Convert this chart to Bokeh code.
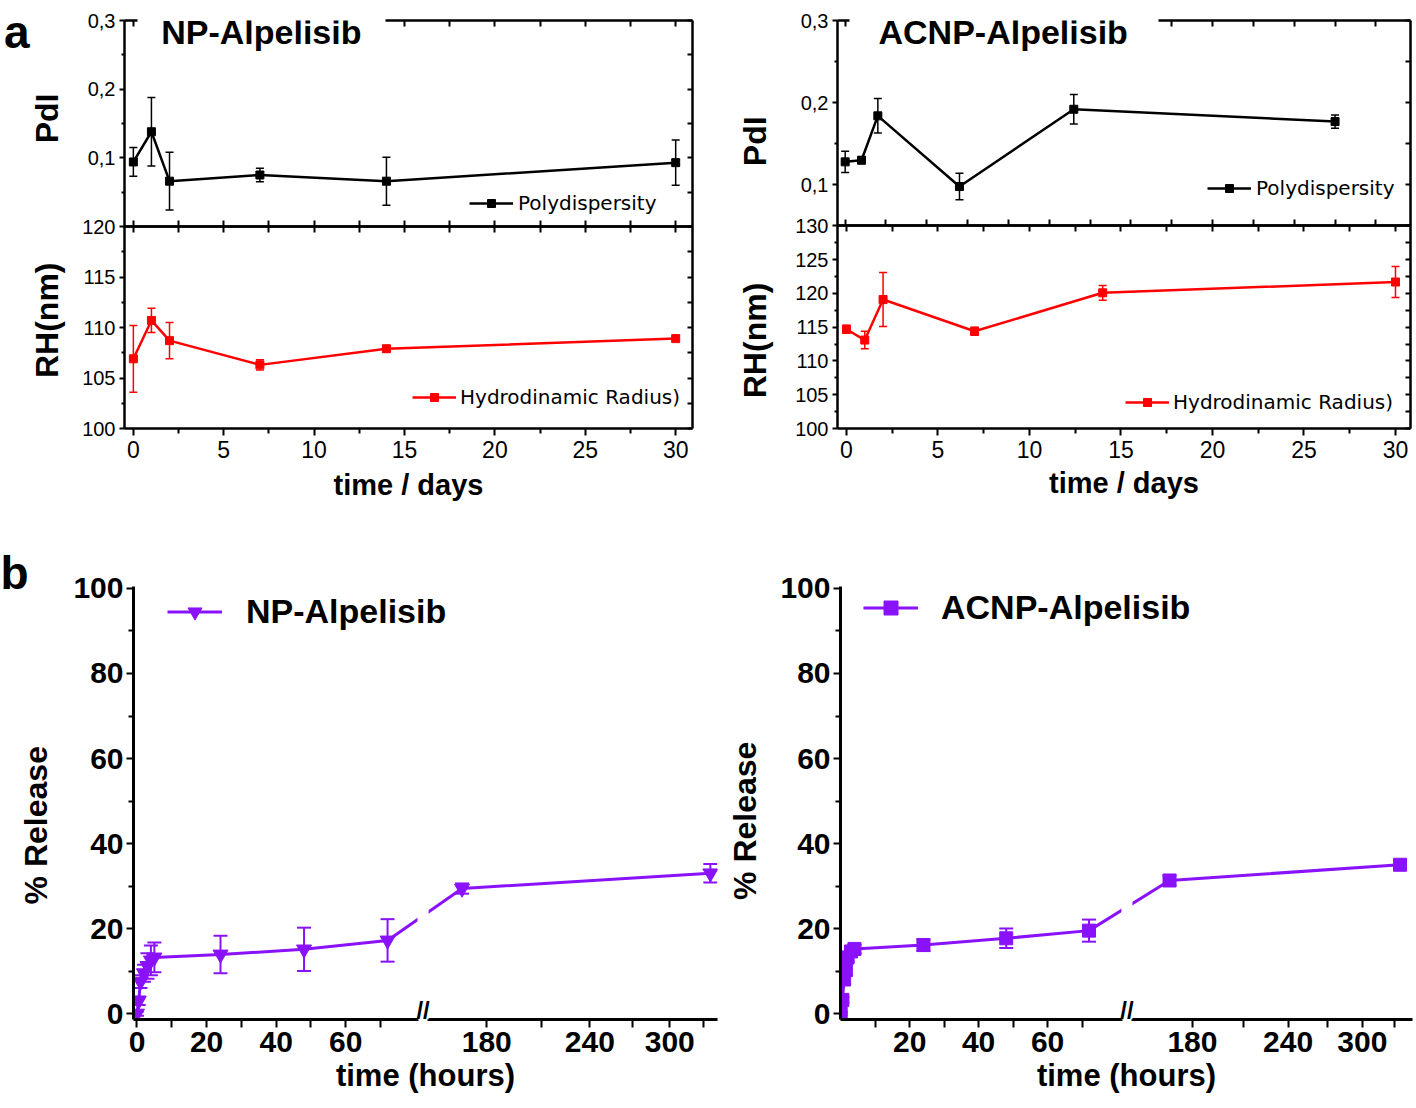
import numpy as np
from bokeh.plotting import figure
from bokeh.models import (Range1d, LinearAxis, FixedTicker, CustomJSTickFormatter, Whisker,
                          TeeHead, ColumnDataSource, Label, Legend, LegendItem, BoxAnnotation)
from bokeh.layouts import row, column
from bokeh.core.properties import value
from bokeh.embed import file_html
from bokeh.resources import INLINE

FONT = "Liberation Sans"
LEG_FONT = "DejaVu Sans"
RED = "#ff0000"
PURPLE = "#8a12fa"
BLACK = "#000000"
HALF_PI = np.pi / 2
NBSP = "\u00a0"

# ---------------- data : panel a (stability over days) ----------------
days = [0, 1, 2, 7, 14, 30]
np_pdi = [0.094, 0.138, 0.066, 0.075, 0.066, 0.093]
np_pdi_err = [0.021, 0.050, 0.042, 0.010, 0.035, 0.033]
np_rh = [106.9, 110.7, 108.7, 106.3, 107.9, 108.9]
np_rh_err = [3.3, 1.2, 1.8, 0.5, 0.3, 0.2]
acnp_pdi = [0.128, 0.130, 0.184, 0.098, 0.192, 0.177]
acnp_pdi_err = [0.013, 0.004, 0.021, 0.016, 0.018, 0.008]
acnp_rh = [114.7, 113.1, 119.1, 114.4, 120.1, 121.7]
acnp_rh_err = [0.6, 1.3, 4.0, 0.6, 1.1, 2.3]
day_ticks = [0, 5, 10, 15, 20, 25, 30]
day_minor = [2.5, 7.5, 12.5, 17.5, 22.5, 27.5]
day_top_acnp = [0, 2.5, 5, 7.5, 10, 12.5, 15, 17.5, 20, 22.5, 25, 27.5, 30, 32.5]
np_rh_ticks = [100, 105, 110, 115, 120]
np_rh_minor = [102.5, 107.5, 112.5, 117.5]
acnp_rh_ticks = [100, 105, 110, 115, 120, 125, 130]
acnp_rh_minor = [102.5, 107.5, 112.5, 117.5, 122.5, 127.5]
pdi_ticks = [0.1, 0.2, 0.3]
np_pdi_minor = [0.05, 0.15, 0.25]
acnp_pdi_minor = [0.15, 0.25]

# ---------------- data : panel b (release over hours) ----------------
np_hours = [0, 0.5, 1, 2, 3, 4, 5, 24, 48, 72, 168, 336]
np_release = [0, 3.0, 7.5, 9.5, 11.2, 12.5, 13.2, 13.9, 15.1, 17.2, 29.4, 33.0]
np_release_err = [0.5, 1.0, 1.5, 2.0, 3.0, 3.5, 3.5, 4.4, 5.1, 5.0, 1.2, 2.2]
acnp_hours = [0, 0.5, 1, 1.5, 2, 3, 4, 24, 48, 72, 168, 336]
acnp_release = [0, 3.2, 8.0, 10.2, 13.2, 14.6, 15.2, 16.1, 17.7, 19.5, 31.3, 35.0]
acnp_release_err = [0.3, 0.6, 1.0, 1.2, 1.0, 1.0, 1.0, 1.4, 2.3, 2.6, 1.2, 0.6]
np_hour_labels = [0, 20, 40, 60, 180, 240, 300]
acnp_hour_labels = [20, 40, 60, 180, 240, 300]
hour_minor = [10, 30, 50, 70, 210, 270, 330]
release_ticks = [0, 20, 40, 60, 80, 100]
release_minor = [10, 30, 50, 70, 90]


def label_formatter(pos, labs):
    return CustomJSTickFormatter(args=dict(pos=list(pos), labs=list(labs)), code="""
        let best = -1, d = 1e9;
        for (let i = 0; i < pos.length; i++) {
          const e = Math.abs(pos[i] - tick);
          if (e < d) { d = e; best = i; }
        }
        return (best >= 0 && d < 1e-6) ? labs[best] : '';
    """)


def style(ax, tin=0, tout=0, min_in=0, min_out=0, fs="20px", bold=False, standoff=0, lw=2.5):
    ax.axis_line_width = lw
    ax.axis_line_color = BLACK
    ax.major_tick_line_width = 2
    ax.minor_tick_line_width = 2
    ax.major_tick_line_color = BLACK
    ax.minor_tick_line_color = BLACK
    ax.major_tick_in = tin
    ax.major_tick_out = tout
    ax.minor_tick_in = min_in
    ax.minor_tick_out = min_out
    ax.major_label_text_font = FONT
    ax.major_label_text_font_size = fs
    ax.major_label_text_font_style = "bold" if bold else "normal"
    ax.major_label_text_color = BLACK
    ax.major_label_standoff = standoff
    ax.axis_label = None


def text_axis(p, side, pos, labs, fs, standoff, angle=0.0, **kw):
    """axis without line/ticks that only carries text labels at given positions"""
    ax = LinearAxis(ticker=FixedTicker(ticks=list(pos), minor_ticks=[]),
                    formatter=label_formatter(pos, labs), **kw)
    style(ax, fs=fs, bold=True, standoff=standoff)
    ax.axis_line_color = None
    ax.major_tick_line_color = None
    ax.minor_tick_line_color = None
    if angle:
        ax.major_label_orientation = angle
    p.add_layout(ax, side)


def title_axis(p, side, text, fs, standoff):
    """axis without line/ticks whose only content is its axis label"""
    ax = LinearAxis(ticker=FixedTicker(ticks=[], minor_ticks=[]))
    style(ax)
    ax.axis_line_color = None
    ax.axis_label = text
    ax.axis_label_standoff = standoff
    ax.axis_label_text_font = FONT
    ax.axis_label_text_font_size = fs
    ax.axis_label_text_font_style = "bold"
    ax.axis_label_text_color = BLACK
    p.add_layout(ax, side)


def bare_axis(p, side, ticks, tin=0, tout=0, lw=2.5, **kw):
    ax = LinearAxis(ticker=FixedTicker(ticks=[], minor_ticks=list(ticks)), **kw)
    style(ax, min_in=tin, min_out=tout, lw=lw)
    p.add_layout(ax, side)


def errbars(p, src, color, lw, head, **rn):
    p.add_layout(Whisker(base="x", upper="hi", lower="lo", source=src, dimension="height",
                         line_color=color, line_width=lw,
                         upper_head=TeeHead(size=head, line_color=color, line_width=lw),
                         lower_head=TeeHead(size=head, line_color=color, line_width=lw), **rn))


def make_src(x, y, e):
    return ColumnDataSource(dict(x=list(x), y=list(y),
                                 lo=[v - d for v, d in zip(y, e)], hi=[v + d for v, d in zip(y, e)]))


def add_legend(p, label, renderers, vx, vy, gw, gh, standoff, font, size, bold):
    p.add_layout(Legend(items=[LegendItem(label=value(label), renderers=renderers)],
                        location=(vx, vy), glyph_width=gw, glyph_height=gh,
                        label_standoff=standoff, padding=0, margin=0, spacing=0,
                        border_line_color=None, background_fill_alpha=0.0,
                        label_text_font=font, label_text_font_size=f"{size}px",
                        label_text_font_style="bold" if bold else "normal",
                        label_text_color=BLACK))


def stability_panel(geom, xr, xr_top, top_ticks, gap_px, rh_lim, rh_ticks, rh_minor,
                    pdi_lim, pdi_minor, pdi, pdi_err, rh, rh_err,
                    ylab_py, ylab_standoff, xlab_standoff, title, title_px, letter=None):
    W, H, L, R, T, D, B = geom
    fh, h_pdi, h_rh = B - T, D - T, B - D
    rh_end = rh_lim[0] + (rh_lim[1] - rh_lim[0]) * fh / h_rh
    pdi_start = pdi_lim[1] - (pdi_lim[1] - pdi_lim[0]) * fh / h_pdi
    p = figure(width=W, height=H, x_range=Range1d(*xr), y_range=Range1d(rh_lim[0], rh_end),
               output_backend="svg", toolbar_location=None, outline_line_color=None,
               x_axis_location=None, y_axis_location=None,
               min_border_left=L, min_border_right=W - R, min_border_top=T,
               min_border_bottom=H - B)
    p.extra_y_ranges = {"pdi": Range1d(pdi_start, pdi_lim[1])}
    p.extra_x_ranges = {"xtop": Range1d(*xr_top)}
    p.grid.visible = False

    def X(px):
        return xr[0] + (px - L) / (R - L) * (xr[1] - xr[0])

    def XT(px):
        return xr_top[0] + (px - L) / (R - L) * (xr_top[1] - xr_top[0])

    def Y(py):
        return rh_lim[0] + (B - py) / fh * (rh_end - rh_lim[0])

    def pdi2rh(v):
        return rh_lim[0] + (v - pdi_start) / (pdi_lim[1] - pdi_start) * (rh_end - rh_lim[0])

    # bottom axis with day labels
    xa = LinearAxis(ticker=FixedTicker(ticks=day_ticks, minor_ticks=day_minor))
    style(xa, tout=7, min_out=5, fs="23px", standoff=5)
    xa.axis_label = "time / days"
    xa.axis_label_standoff = xlab_standoff
    xa.axis_label_text_font = FONT
    xa.axis_label_text_font_size = "29px"
    xa.axis_label_text_font_style = "bold"
    xa.axis_label_text_color = BLACK
    p.add_layout(xa, "below")

    # left axis: RH ticks and PdI ticks share one line
    pos = list(rh_ticks) + [pdi2rh(v) for v in pdi_ticks]
    labs = [str(v) for v in rh_ticks] + [f"{v:.1f}".replace(".", ",") for v in pdi_ticks]
    minor = list(rh_minor) + [pdi2rh(v) for v in pdi_minor]
    ya = LinearAxis(ticker=FixedTicker(ticks=pos, minor_ticks=minor),
                    formatter=label_formatter(pos, labs))
    style(ya, tout=5, min_out=3, fs="20px", standoff=4)
    p.add_layout(ya, "left")
    # y titles (PdI / RH(nm)) as rotated labels; rotated labels end at their tick
    text_axis(p, "left", [Y(ylab_py[0]), Y(ylab_py[1])], ["PdI", "RH(nm)"], "32px",
              ylab_standoff, angle=HALF_PI)
    if letter is not None:
        text_axis(p, "left", [Y(T + 1)], [letter], "46px", -22)

    # right, top and middle tick rows
    bare_axis(p, "right", pos + minor, tin=5)
    gx0, gx1 = XT(gap_px[0]), XT(gap_px[1])
    bare_axis(p, "above", [t for t in top_ticks if t <= gx0], tin=6, x_range_name="xtop",
              bounds=(xr_top[0], gx0))
    bare_axis(p, "above", [t for t in top_ticks if t >= gx1], tin=6, x_range_name="xtop",
              bounds=(gx1, xr_top[1]))
    bare_axis(p, "below", top_ticks, tin=6, fixed_location=rh_lim[1], x_range_name="xtop")
    bare_axis(p, "below", day_ticks + day_minor, tout=6, fixed_location=rh_lim[1])

    sr = make_src(days, rh, rh_err)
    errbars(p, sr, RED, 1.5, 8)
    lr = p.line("x", "y", source=sr, line_color=RED, line_width=2.5)
    mr = p.scatter("x", "y", source=sr, marker="square", size=8, color=RED)

    sp = make_src(days, pdi, pdi_err)
    errbars(p, sp, BLACK, 1.5, 8, x_range_name="xtop", y_range_name="pdi")
    lp = p.line("x", "y", source=sp, line_color=BLACK, line_width=2.5,
                x_range_name="xtop", y_range_name="pdi")
    mp = p.scatter("x", "y", source=sp, marker="square", size=8, color=BLACK,
                   x_range_name="xtop", y_range_name="pdi")

    p.add_layout(Label(x=X(title_px[0]), y=Y(title_px[1]), text=title, text_font=FONT,
                       text_font_size="34px", text_font_style="bold", text_align="left",
                       text_baseline="middle", text_color=BLACK))
    return p, (lp, mp), (lr, mr)


def release_panel(geom, xr, yr, x180, k, brk, hours, rel, err, marker, msize, lab_vals,
                  ylab_pad, ylab_standoff, letter=None):
    W, H, L, R, T, B = geom
    p = figure(width=W, height=H, x_range=Range1d(*xr), y_range=Range1d(*yr),
               output_backend="svg", toolbar_location=None, outline_line_color=None,
               x_axis_location=None, y_axis_location=None,
               min_border_left=L, min_border_right=W - R, min_border_top=T,
               min_border_bottom=H - B)
    p.grid.visible = False

    def hx(t):
        t = np.asarray(t, dtype=float)
        return np.where(t < 100, t, x180 + k * np.log10(np.clip(t, 1e-9, None) / 180.0))

    # axis line with a break
    gap = 1.3
    bare_axis(p, "below", [], lw=3, bounds=(xr[0], brk - gap))
    bare_axis(p, "below", [], lw=3, bounds=(brk + gap, xr[1]))
    major = [float(v) for v in hx(lab_vals)]
    minor = [float(v) for v in hx(hour_minor)]
    xa = LinearAxis(ticker=FixedTicker(ticks=major, minor_ticks=minor),
                    formatter=label_formatter(major, [str(v) for v in lab_vals]))
    style(xa, tout=8, min_out=8, fs="30px", bold=True, standoff=4, lw=3)
    xa.axis_line_color = None
    xa.axis_label = "time (hours)"
    xa.axis_label_standoff = 3
    xa.axis_label_text_font = FONT
    xa.axis_label_text_font_size = "31px"
    xa.axis_label_text_font_style = "bold"
    xa.axis_label_text_color = BLACK
    p.add_layout(xa, "below")

    ya = LinearAxis(ticker=FixedTicker(ticks=release_ticks, minor_ticks=release_minor))
    style(ya, tout=7, min_out=5, fs="30px", bold=True, standoff=3, lw=3)
    p.add_layout(ya, "left")
    # non-breaking spaces after the text lower the centred, rotated title a little
    title_axis(p, "left", "% Release" + NBSP * ylab_pad, "32px", ylab_standoff)

    if letter is not None:
        p.title.text = letter
        p.title.text_font = FONT
        p.title.text_font_size = "46px"
        p.title.text_font_style = "bold"
        p.title.text_color = BLACK
        p.title.align = "left"
        p.title.offset = -L
        p.title.standoff = -25

    src = make_src(hx(hours), rel, err)
    errbars(p, src, PURPLE, 2, 14)
    ln = p.line("x", "y", source=src, line_color=PURPLE, line_width=3)
    mk = p.scatter("x", "y", source=src, marker=marker, size=msize, color=PURPLE)
    p.add_layout(BoxAnnotation(left=brk - 1.6, right=brk + 1.6, fill_color="white",
                               fill_alpha=1.0, line_alpha=0.0))
    p.add_layout(Label(x=brk, y=yr[0] - 1.0, text="//", text_font=FONT, text_font_size="24px",
                       text_font_style="bold", text_align="center", text_baseline="bottom",
                       text_color=BLACK))
    return p, (ln, mk)


# ---------------- panel a, left : NP-Alpelisib ----------------
pal, leg_p, leg_r = stability_panel(
    (715, 515, 120, 692, 20, 226, 428), (-0.49, 30.93), (-0.49, 30.93), day_ticks + day_minor,
    (133, 383), (100, 120), np_rh_ticks, np_rh_minor, (0.0, 0.3), np_pdi_minor,
    np_pdi, np_pdi_err, np_rh, np_rh_err, (93, 262), 33, 8, "NP-Alpelisib", (157, 31),
    letter="a")
add_legend(pal, "Polydispersity", list(leg_p), 345, 213, 44, 20, 5, LEG_FONT, 20, False)
add_legend(pal, "Hydrodinamic Radius)", list(leg_r), 288, 19, 44, 20, 4, LEG_FONT, 20, False)

# ---------------- panel a, right : ACNP-Alpelisib ----------------
par, leg_p2, leg_r2 = stability_panel(
    (699, 515, 122, 695, 16, 226, 433), (-0.49, 30.82), (-0.47, 34.62), day_top_acnp,
    (134, 443), (100, 130), acnp_rh_ticks, acnp_rh_minor, (0.05, 0.3), acnp_pdi_minor,
    acnp_pdi, acnp_pdi_err, acnp_rh, acnp_rh_err, (114, 284), 37, 6, "ACNP-Alpelisib", (163, 28))
add_legend(par, "Polydispersity", list(leg_p2), 370, 228, 44, 20, 5, LEG_FONT, 20, False)
add_legend(par, "Hydrodinamic Radius)", list(leg_r2), 288, 14, 44, 20, 4, LEG_FONT, 20, False)

# ---------------- panel b, left : NP-Alpelisib release ----------------
pbl, leg_b1 = release_panel(
    (723, 591, 133, 717, 71, 504), (-1.0, 166.8), (-1.41, 100.47), 100.5, 237.0, 82.2,
    np_hours, np_release, np_release_err, "inverted_triangle", 15, np_hour_labels,
    5, 17, letter="b")
add_legend(pbl, "NP-Alpelisib", list(leg_b1), 34, 388, 55, 35, 24, FONT, 34, True)

# ---------------- panel b, right : ACNP-Alpelisib release ----------------
pbr, leg_b2 = release_panel(
    (691, 591, 112, 689, 71, 504), (-0.05, 165.8), (-1.41, 100.47), 102.0, 222.0, 83.0,
    acnp_hours, acnp_release, acnp_release_err, "square", 13, acnp_hour_labels,
    4, 15)
add_legend(pbr, "ACNP-Alpelisib", list(leg_b2), 23, 392, 55, 35, 23, FONT, 34, True)

layout = column(row(pal, par, spacing=0), row(pbl, pbr, spacing=0), spacing=0)
open("out.html", "w").write(file_html(layout, INLINE, title="Alpelisib nanoparticles"))
